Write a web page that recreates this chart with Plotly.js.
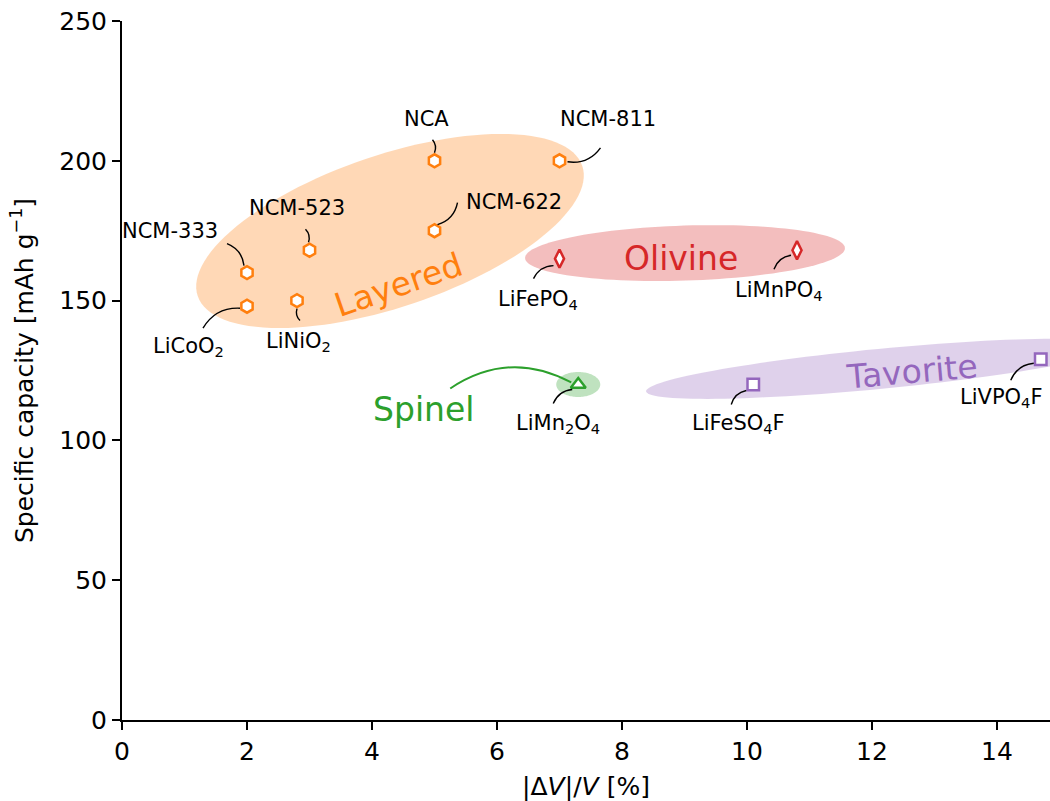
<!DOCTYPE html>
<html>
<head>
<meta charset="utf-8">
<script src="https://cdn.plot.ly/plotly-3.0.1.min.js"></script>
<style>html,body{margin:0;padding:0;background:#fff;}#chart{width:1050px;height:801px;}</style>
</head>
<body>
<div id="chart"></div>
<script>
// ---------------- data ----------------
const materials = ["LiCoO<sub>2</sub>", "NCM-333", "LiNiO<sub>2</sub>", "NCM-523", "NCA", "NCM-622", "NCM-811",
                   "LiFePO<sub>4</sub>", "LiMnPO<sub>4</sub>",
                   "LiMn<sub>2</sub>O<sub>4</sub>",
                   "LiFeSO<sub>4</sub>F", "LiVPO<sub>4</sub>F"];
const volumeChange = [2.0, 2.0, 2.8, 3.0, 5.0, 5.0, 7.0, 7.0, 10.8, 7.3, 10.1, 14.7];
const capacity     = [148, 160, 150, 168, 200, 175, 200, 165, 168, 120, 120, 129];
const structure    = ["Layered","Layered","Layered","Layered","Layered","Layered","Layered",
                      "Olivine","Olivine","Spinel","Tavorite","Tavorite"];
const groups = ["Layered", "Olivine", "Spinel", "Tavorite"];
const xTicks = [0, 2, 4, 6, 8, 10, 12, 14];
const yTicks = [0, 50, 100, 150, 200, 250];

// ---------------- styling ----------------
const W = 1050, H = 801;
const M = {l: 122, r: 0, t: 21, b: 81};
const xRange = [0, 14.848], yRange = [0, 250];
const pxX = (W - M.l - M.r) / (xRange[1] - xRange[0]);
const pxY = (H - M.t - M.b) / (yRange[1] - yRange[0]);
const FONT = "DejaVu Sans, Liberation Sans, sans-serif";

const groupStyle = {
  Layered:  {color: "#ff7f0e", symbol: "hexagon",      size: 13},
  Olivine:  {color: "#d62728", symbol: "diamond-tall", size: 13},
  Spinel:   {color: "#2ca02c", symbol: "triangle-up",  size: 13},
  Tavorite: {color: "#9467bd", symbol: "square",       size: 11.5}
};
// ellipse regions: centre (data), semi-axes (px), angle (deg, counter-clockwise)
const regionStyle = {
  Layered:  {cx: 4.288, cy: 174.9, a: 203, b: 76,   ang: 18.7},
  Olivine:  {cx: 9.008, cy: 167.0, a: 160, b: 27.5, ang: 1.8},
  Spinel:   {cx: 7.30,  cy: 120.0, a: 22,  b: 12.5, ang: 0},
  Tavorite: {cx: 12.13, cy: 125.6, a: 235, b: 20,   ang: 5.5}
};
// group labels (data position, rotation)
const groupLabel = {
  Layered:  {x: 4.43,  y: 155.9, rot: -19},
  Olivine:  {x: 8.95,  y: 165.2, rot: 0},
  Spinel:   {x: 4.83,  y: 110.9, rot: 0},
  Tavorite: {x: 12.64, y: 124.8, rot: -5}
};
// per-label layout in px relative to marker (y down): text centre, connector start/end
const labelLayout = [
  {t: [-59, 41], s: [-44, 22], e: [-7, 2]},   // LiCoO2
  {t: [-77, -42], s: [-20, -29], e: [-3, -7]}, // NCM-333
  {t: [1, 41],  s: [3, 20],  e: [0, 8]},       // LiNiO2
  {t: [-13, -42], s: [-4, -21], e: [-1, -8]},  // NCM-523
  {t: [-8, -42], s: [-2, -21], e: [0, -8]},    // NCA
  {t: [79, -29], s: [23, -28], e: [3, -6]},    // NCM-622
  {t: [48, -42], s: [41, -13], e: [8, 1]},     // NCM-811
  {t: [-22, 41], s: [-26, 20], e: [-6, 7]},    // LiFePO4
  {t: [-18, 41], s: [-23, 19], e: [-6, 5]},    // LiMnPO4
  {t: [-20, 40], s: [-25, 19], e: [-6, 5]},    // LiMn2O4
  {t: [-15, 40], s: [-22, 20], e: [-7, 6]},    // LiFeSO4F
  {t: [-39, 39], s: [-30, 21], e: [-7, 4]}     // LiVPO4F
];
const RAD = 0.3;

function off(x, y, dx, dy) { return [x + dx / pxX, y - dy / pxY]; }

function ellipsePath(r) {
  const th = r.ang * Math.PI / 180;
  let p = "";
  for (let i = 0; i <= 120; i++) {
    const t = 2 * Math.PI * i / 120;
    const u = r.a * Math.cos(t), v = r.b * Math.sin(t);
    const X = u * Math.cos(th) - v * Math.sin(th);
    const Y = u * Math.sin(th) + v * Math.cos(th);
    const px = r.cx + X / pxX, py = r.cy + Y / pxY;
    p += (i === 0 ? "M" : "L") + px.toFixed(5) + "," + py.toFixed(5);
  }
  return p + "Z";
}
function curvePath(x, y, s, e, rad) {
  // pixel-space quadratic curve (arc3-like), converted to data
  const dx = e[0] - s[0], dy = e[1] - s[1];
  const mx = (s[0] + e[0]) / 2, my = (s[1] + e[1]) / 2;
  const c = [mx + rad * dy, my - rad * dx];
  const P0 = off(x, y, s[0], s[1]), C = off(x, y, c[0], c[1]), P1 = off(x, y, e[0], e[1]);
  return "M" + P0.join(",") + " Q" + C.join(",") + " " + P1.join(",");
}

const shapes = [];
groups.forEach(g => {
  shapes.push({type: "path", xref: "x", yref: "y", path: ellipsePath(regionStyle[g]),
    fillcolor: groupStyle[g].color, opacity: 0.3, line: {width: 0}, layer: "below"});
});
materials.forEach((m, i) => {
  const L = labelLayout[i];
  shapes.push({type: "path", xref: "x", yref: "y",
    path: curvePath(volumeChange[i], capacity[i], L.s, L.e, RAD),
    line: {color: "#000", width: 1.4}, layer: "above"});
});
// Spinel arrow from group label towards LiMn2O4
const iSp = structure.indexOf("Spinel");
shapes.push({type: "path", xref: "x", yref: "y",
  path: curvePath(volumeChange[iSp], capacity[iSp], [-128, 4], [-7, -2], RAD),
  line: {color: groupStyle.Spinel.color, width: 2}, layer: "above"});

const annotations = [];
materials.forEach((m, i) => {
  const L = labelLayout[i];
  annotations.push({x: volumeChange[i], y: capacity[i], xref: "x", yref: "y",
    xshift: L.t[0], yshift: -L.t[1], text: m, showarrow: false,
    xanchor: "center", yanchor: "middle", font: {family: FONT, size: 21, color: "#000"}});
});
groups.forEach(g => {
  const gl = groupLabel[g];
  annotations.push({x: gl.x, y: gl.y, xref: "x", yref: "y", text: g, showarrow: false,
    textangle: gl.rot, xanchor: "center", yanchor: "middle",
    font: {family: FONT, size: 33, color: groupStyle[g].color}});
});

const traces = groups.map(g => {
  const idx = structure.map((s, i) => s === g ? i : -1).filter(i => i >= 0);
  return {
    type: "scatter", mode: "markers", name: g,
    x: idx.map(i => volumeChange[i]), y: idx.map(i => capacity[i]),
    cliponaxis: false,
    marker: {symbol: groupStyle[g].symbol, size: groupStyle[g].size, color: "#ffffff",
             line: {color: groupStyle[g].color, width: 2.5}},
    hoverinfo: "x+y"
  };
});

const axisCommon = {
  showgrid: false, zeroline: false, showline: true, linecolor: "#000", linewidth: 2,
  ticks: "outside", ticklen: 8, tickwidth: 2, tickcolor: "#000",
  tickfont: {family: FONT, size: 25, color: "#000"}, mirror: false
};
const layout = {
  width: W, height: H, margin: M, showlegend: false,
  paper_bgcolor: "#fff", plot_bgcolor: "#fff",
  font: {family: FONT, color: "#000"},
  xaxis: Object.assign({}, axisCommon, {range: xRange, tickvals: xTicks, ticktext: xTicks.map(String),
    title: {text: "|Δ<i>V</i>|/<i>V</i> [%]", font: {family: FONT, size: 25, color: "#000"}, standoff: 12}}),
  yaxis: Object.assign({}, axisCommon, {range: yRange, tickvals: yTicks, ticktext: yTicks.map(String),
    title: {text: "Specific capacity [mAh g<sup>−1</sup>]", font: {family: FONT, size: 25, color: "#000"}, standoff: 19}}),
  shapes: shapes, annotations: annotations
};
Plotly.newPlot("chart", traces, layout, {displayModeBar: false, staticPlot: true});
</script>
</body>
</html>
